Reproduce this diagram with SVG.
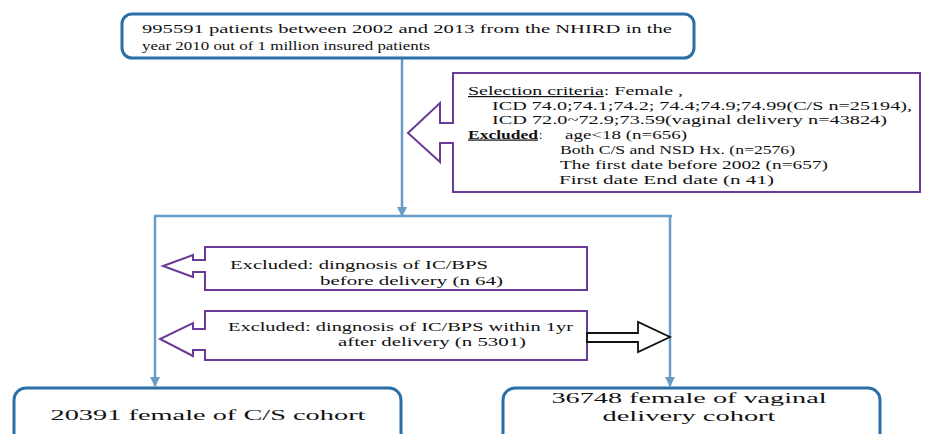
<svg xmlns="http://www.w3.org/2000/svg" width="926" height="434" viewBox="0 0 926 434">
<style>
.t{font-family:"Liberation Serif","DejaVu Serif","Times New Roman",serif;fill:#111;}
.s{font-size:12px;}
.m{font-size:13.5px;}
.b{font-size:15.5px;}
.rb{fill:#fff;stroke:#2a6fa6;stroke-width:3;}
.pb{fill:#fff;stroke:#6a3a98;stroke-width:2;}
.ln{stroke:#6a9cc8;stroke-width:2.5;fill:none;}
</style>
<defs>
<marker id="ah" viewBox="0 0 10 10" refX="9" refY="5" markerWidth="4" markerHeight="4" orient="auto" markerUnits="strokeWidth">
<path d="M0,0 L10,5 L0,10 Z" fill="#6a9cc8"/>
</marker>
</defs>
<rect width="926" height="434" fill="#fff"/>
<g id="connectors">
<line class="ln" x1="402" y1="58" x2="402" y2="216" marker-end="url(#ah)"/>
<line class="ln" x1="154" y1="216" x2="672" y2="216"/>
<line class="ln" x1="155" y1="216" x2="155" y2="386" marker-end="url(#ah)"/>
<line class="ln" x1="670" y1="216" x2="670" y2="386" marker-end="url(#ah)"/>
</g>
<g id="top">
<rect class="rb" x="122" y="14" width="572" height="44" rx="10"/>
<text class="t m" x="142" y="33" textLength="530" lengthAdjust="spacingAndGlyphs">995591 patients between 2002 and 2013 from the NHIRD in the</text>
<text class="t m" x="142" y="50" textLength="288" lengthAdjust="spacingAndGlyphs">year 2010 out of 1 million insured patients</text>
</g>
<g id="selection">
<path class="pb" d="M453,73 H920 V192 H453 V143 H440 V162 L408,133 L440,103 V123 H453 Z"/>
<text class="t s" x="468" y="95" textLength="215" lengthAdjust="spacingAndGlyphs"><tspan text-decoration="underline">Selection criteria</tspan>: Female ,</text>
<text class="t s" x="492" y="109.5" textLength="420" lengthAdjust="spacingAndGlyphs">ICD 74.0;74.1;74.2; 74.4;74.9;74.99(C/S n=25194),</text>
<text class="t s" x="492" y="124" textLength="395" lengthAdjust="spacingAndGlyphs">ICD 72.0~72.9;73.59(vaginal delivery n=43824)</text>
<text class="t s" x="468" y="138.5" font-weight="bold" text-decoration="underline" textLength="70" lengthAdjust="spacingAndGlyphs">Excluded</text>
<text class="t s" x="539" y="138.5">:</text>
<text class="t s" x="565" y="138.5" textLength="122" lengthAdjust="spacingAndGlyphs">age&lt;18 (n=656)</text>
<text class="t s" x="560" y="153.5" textLength="235" lengthAdjust="spacingAndGlyphs">Both C/S and NSD Hx. (n=2576)</text>
<text class="t s" x="560" y="168.5" textLength="268" lengthAdjust="spacingAndGlyphs">The first date before 2002 (n=657)</text>
<text class="t s" x="559" y="184" textLength="215" lengthAdjust="spacingAndGlyphs">First date  End date (n  41)</text>
</g>
<g id="excl-before">
<path class="pb" d="M205,247 H587 V290 H205 V272 H193 V277 L163,266 L193,255 V260 H205 Z"/>
<text class="t s" x="230" y="269" textLength="258" lengthAdjust="spacingAndGlyphs">Excluded: dingnosis of IC/BPS</text>
<text class="t s" x="320" y="285" textLength="183" lengthAdjust="spacingAndGlyphs">before delivery (n  64)</text>
</g>
<g id="excl-within">
<path class="pb" d="M205,311 H587 V360 H205 V350 H193 V356 L160,339 L193,323 V329 H205 Z"/>
<text class="t s" x="228" y="331" textLength="345" lengthAdjust="spacingAndGlyphs">Excluded: dingnosis of IC/BPS within 1yr</text>
<text class="t s" x="338" y="346" textLength="188" lengthAdjust="spacingAndGlyphs">after delivery (n  5301)</text>
</g>
<g id="right-arrow">
<path d="M587,333 H638 V322 L670,337 L638,352 V342 H587 Z" fill="#fff" stroke="#111" stroke-width="1.8"/>
</g>
<g id="cs-cohort">
<rect class="rb" x="14" y="388" width="387" height="60" rx="12"/>
<text class="t b" x="208" y="420" text-anchor="middle" textLength="315" lengthAdjust="spacingAndGlyphs">20391 female of C/S cohort</text>
</g>
<g id="vd-cohort">
<rect class="rb" x="503" y="388" width="377" height="60" rx="12"/>
<text class="t b" x="689" y="403" text-anchor="middle" textLength="275" lengthAdjust="spacingAndGlyphs">36748 female of vaginal</text>
<text class="t b" x="689" y="421" text-anchor="middle" textLength="173" lengthAdjust="spacingAndGlyphs">delivery cohort</text>
</g>
</svg>
